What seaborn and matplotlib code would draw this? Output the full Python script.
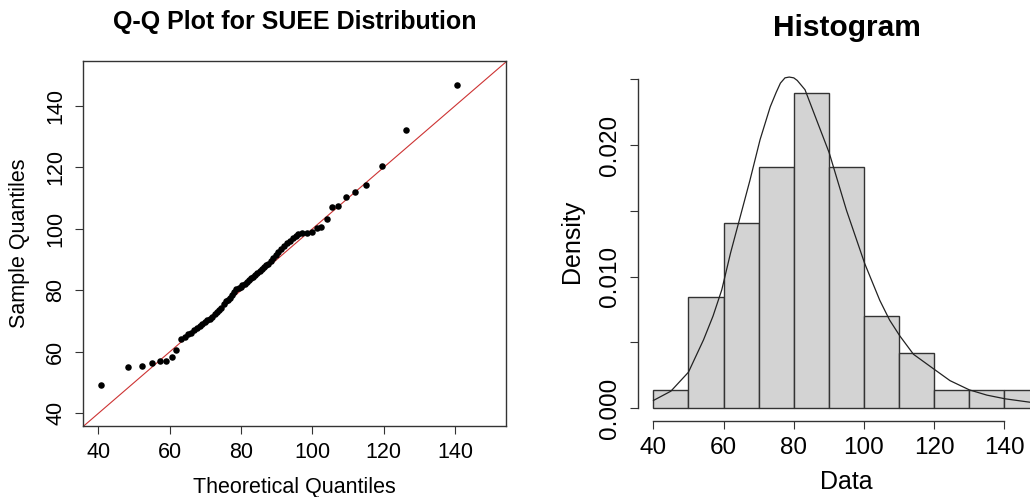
import matplotlib
matplotlib.use("Agg")
import matplotlib.pyplot as plt
import seaborn as sns
import numpy as np
import pandas as pd

# ---------------- data ----------------
theoretical_q = [40.7, 48.3, 52.3, 55.1, 57.3, 59.0, 60.7, 61.9, 63.1,
                 64.2, 65.1, 66.0, 66.8, 67.6, 68.4, 69.2, 69.9,
                 70.6, 71.3, 72.0, 72.6, 73.3, 73.9, 74.5, 75.1, 75.7, 76.3, 76.9, 77.5, 78.1,
                 78.7, 79.3, 79.9, 80.4, 81.0, 81.6, 82.2, 82.8, 83.4, 84.0, 84.6, 85.2, 85.8,
                 86.4, 87.1, 87.7, 88.4,
                 89.1, 89.8, 90.5, 91.3, 92.1, 92.9, 93.7, 94.5, 95.3, 96.1, 97.1, 98.4, 99.8,
                 101.2, 102.3, 104.0, 105.4, 107.1, 109.4, 112.1, 115.0, 119.4, 126.2, 140.5]
sample_q = [49.2, 55.2, 55.5, 56.3, 56.9, 57.0, 58.4, 60.5, 64.3,
            65.0, 65.8, 66.3, 67.0, 67.8, 68.4, 69.0, 69.6,
            70.3, 70.8, 71.4, 72.3, 73.0, 73.6, 74.4, 75.6, 76.4, 77.0, 77.6, 78.4, 79.5,
            80.3, 80.8, 81.2, 81.6, 82.2, 82.8, 83.4, 84.0, 84.5, 84.9, 85.5, 86.3, 87.0,
            87.6, 88.1, 88.7, 89.5,
            90.6, 91.5, 92.5, 93.4, 94.3, 95.3, 96.2, 97.0, 97.8, 98.2, 98.6, 98.8, 99.1,
            100.4, 100.7, 103.1, 107.2, 107.3, 110.5, 111.9, 114.3, 120.6, 132.1, 146.9]
hist_breaks = [40, 50, 60, 70, 80, 90, 100, 110, 120, 130, 140, 150]

curve_x = [40, 45, 50, 54.3, 57, 59.5, 62, 64.2, 67.5, 70.4, 73.3, 75.0, 76.2, 77.5, 78.7,
           80.0, 81, 83.2, 86.5, 90.1, 95.0, 100.2, 104.5, 107.3, 110.2, 114.1, 119.8,
           124.5, 130, 135, 140.2, 147.3, 150]
curve_y = [0.00059, 0.0013, 0.00274, 0.0052, 0.0070, 0.0090, 0.0118, 0.0140, 0.0173,
           0.0204, 0.0229, 0.0240, 0.0247, 0.0251, 0.02516, 0.0251, 0.0249, 0.0242,
           0.0219, 0.0194, 0.01505, 0.0110, 0.0082, 0.0067, 0.0055, 0.0041, 0.0030,
           0.0021, 0.0014, 0.0010, 0.00072, 0.00046, 0.0004]

qq_ticks = [40, 60, 80, 100, 120, 140]
hist_xticks = [40, 60, 80, 100, 120, 140]
hist_yticks = [0.0, 0.005, 0.010, 0.015, 0.020, 0.025]
hist_ylabels = ["0.000", "", "0.010", "", "0.020", ""]

# ---------------- style ----------------
sns.set_theme(style="white")
plt.rcParams['font.family'] = ['Liberation Sans', 'DejaVu Sans']
plt.rcParams['text.color'] = 'black'
plt.rcParams['axes.labelcolor'] = 'black'
plt.rcParams['axes.titlecolor'] = 'black'
plt.rcParams['xtick.color'] = 'black'
plt.rcParams['ytick.color'] = 'black'

W, H = 1030, 497
fig = plt.figure(figsize=(W / 100, H / 100), dpi=100)

# ---------------- left: Q-Q ----------------
ax1 = fig.add_axes([83 / W, 1 - 426 / H, 423 / W, 365 / H])
ax1.axline((0, 0), slope=1, color='#CD3333', lw=0.8, zorder=1)
sns.scatterplot(x=theoretical_q, y=sample_q, ax=ax1, color='black', s=22,
                linewidth=0, zorder=3)
ax1.set_xlim(35.7, 154.3)
ax1.set_ylim(35.9, 154.6)
for sp in ax1.spines.values():
    sp.set_visible(True)
    sp.set_color('#333333')
    sp.set_linewidth(1.0)
ax1.set_xticks(qq_ticks, [str(t) for t in qq_ticks])
ax1.set_yticks(qq_ticks, [str(t) for t in qq_ticks], rotation=90, va='center')
ax1.tick_params(axis='both', which='both', direction='out', length=6, width=0.8,
                color='#333333', labelsize=15.5, labelcolor='black',
                bottom=True, left=True)
ax1.tick_params(axis='x', pad=5.5)
ax1.tick_params(axis='y', pad=6.1)
ax1.set_xlabel('Theoretical Quantiles', fontsize=15.5, va='center', color='black')
ax1.set_ylabel('Sample Quantiles', fontsize=15.5, va='center', color='black')
ax1.xaxis.set_label_coords(0.5, (426 - 487) / 365)
ax1.yaxis.set_label_coords((20 - 83) / 423, 0.5)
ax1.set_title('Q-Q Plot for SUEE Distribution', fontsize=18, fontweight='bold',
              y=(426 - 22) / 365, va='center', pad=0, color='black')

# ---------------- right: histogram ----------------
ax2 = fig.add_axes([638 / W, 1 - 421 / H, 417 / W, 360 / H])
sns.histplot(x=sample_q, bins=hist_breaks, stat='density', ax=ax2,
             color='#D3D3D3', edgecolor='#333333', linewidth=1.0, alpha=1)
sns.lineplot(x=curve_x, y=curve_y, ax=ax2, color='#222222', lw=0.9)
ax2.set_xlim(35.64, 154.4)
ax2.set_ylim(-0.000965, 0.02638)
ax2.spines['top'].set_visible(False)
ax2.spines['right'].set_visible(False)
for s in ['left', 'bottom']:
    ax2.spines[s].set_visible(True)
    ax2.spines[s].set_color('#333333')
    ax2.spines[s].set_linewidth(1.0)
ax2.spines['left'].set_bounds(0, 0.025)
ax2.spines['bottom'].set_bounds(40, 140)
ax2.set_xticks(hist_xticks, [str(t) for t in hist_xticks])
ax2.set_yticks(hist_yticks, hist_ylabels, rotation=90, va='center')
ax2.tick_params(axis='both', which='both', direction='out', length=6, width=0.8,
                color='#333333', labelsize=17.5, labelcolor='black',
                bottom=True, left=True)
ax2.tick_params(axis='x', pad=5.3)
ax2.tick_params(axis='y', pad=6.0)
ax2.set_xlabel('Data', fontsize=18, va='center', color='black')
ax2.set_ylabel('Density', fontsize=18, va='center', color='black')
ax2.xaxis.set_label_coords(0.5, (421 - 482) / 360)
ax2.yaxis.set_label_coords((572 - 638) / 417, 0.5)
ax2.set_title('Histogram', fontsize=21.5, fontweight='bold',
              y=(421 - 28) / 360, va='center', pad=0, color='black')

fig.savefig('out.png', dpi=100)
